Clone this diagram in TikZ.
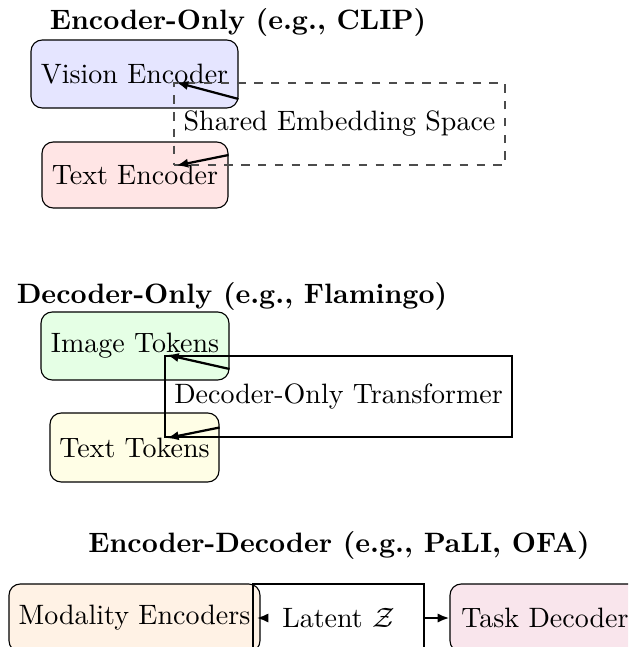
\documentclass[tikz,border=0pt]{standalone}
\usetikzlibrary{calc,arrows.meta}
\begin{document}
\begin{tikzpicture}[x=0.357pt,y=-0.357pt,
  title/.style={font=\bfseries},
  box/.style={draw, rounded corners=4pt, minimum height=68*0.357pt, inner sep=0pt},
  frame/.style={draw, thick, inner sep=0pt},
  arr/.style={-{Latex[length=4.2pt,width=3.3pt]}, thick}]
\useasboundingbox (0,0) rectangle (628,647);
\clip (0,0) rectangle (628,647);

% --- encoder-only ---
\node[title] (t1) at (238,22) {Encoder-Only (e.g., CLIP)};
\node[box, fill=blue!10, minimum width=207*0.357pt] (vis) at (134.5,74) {Vision Encoder};
\node[box, fill=red!10, minimum width=186*0.357pt, minimum height=66*0.357pt] (txt) at (135,175) {Text Encoder};
\node[draw=black!70, dashed, minimum width=331*0.357pt, minimum height=82*0.357pt, inner sep=0pt] (shared) at (339.5,124) {Shared Embedding Space};
\draw[arr] ($(vis.east)+(0,25)$) -- ($(shared.north west)+(3,0)$);
\draw[arr] ($(txt.east)+(0,-20)$) -- ($(shared.south west)+(3,0)$);

% --- decoder-only ---
\node[title] (t2) at (232,296) {Decoder-Only (e.g., Flamingo)};
\node[box, fill=green!10, minimum width=188*0.357pt] (img) at (135,346) {Image Tokens};
\node[box, fill=yellow!10, minimum width=169*0.357pt, minimum height=69*0.357pt] (tok) at (134.5,447.5) {Text Tokens};
\node[frame, minimum width=347*0.357pt, minimum height=81*0.357pt] (dec) at (338.5,396.5) {Decoder-Only Transformer};
\draw[arr] ($(img.east)+(0,23)$) -- ($(dec.north west)+(3,0)$);
\draw[arr] ($(tok.east)+(0,-20)$) -- ($(dec.south west)+(3,0)$);

% --- encoder-decoder ---
\node[title] (t3) at (339,545) {Encoder-Decoder (e.g., PaLI, OFA)};
\node[box, fill=orange!10, minimum width=251*0.357pt] (mod) at (134.5,618) {Modality Encoders};
\node[frame, minimum width=171*0.357pt, minimum height=68*0.357pt] (lat) at (338.5,618) {Latent $\mathcal{Z}$};
\node[box, fill=purple!10, minimum width=190*0.357pt] (task) at (545,618) {Task Decoder};
\draw[arr] ($(lat.west)+(15,0)$) -- ($(mod.east)+(-4,0)$);
\draw[arr] (lat.east) -- (task.west);
\end{tikzpicture}
\end{document}
